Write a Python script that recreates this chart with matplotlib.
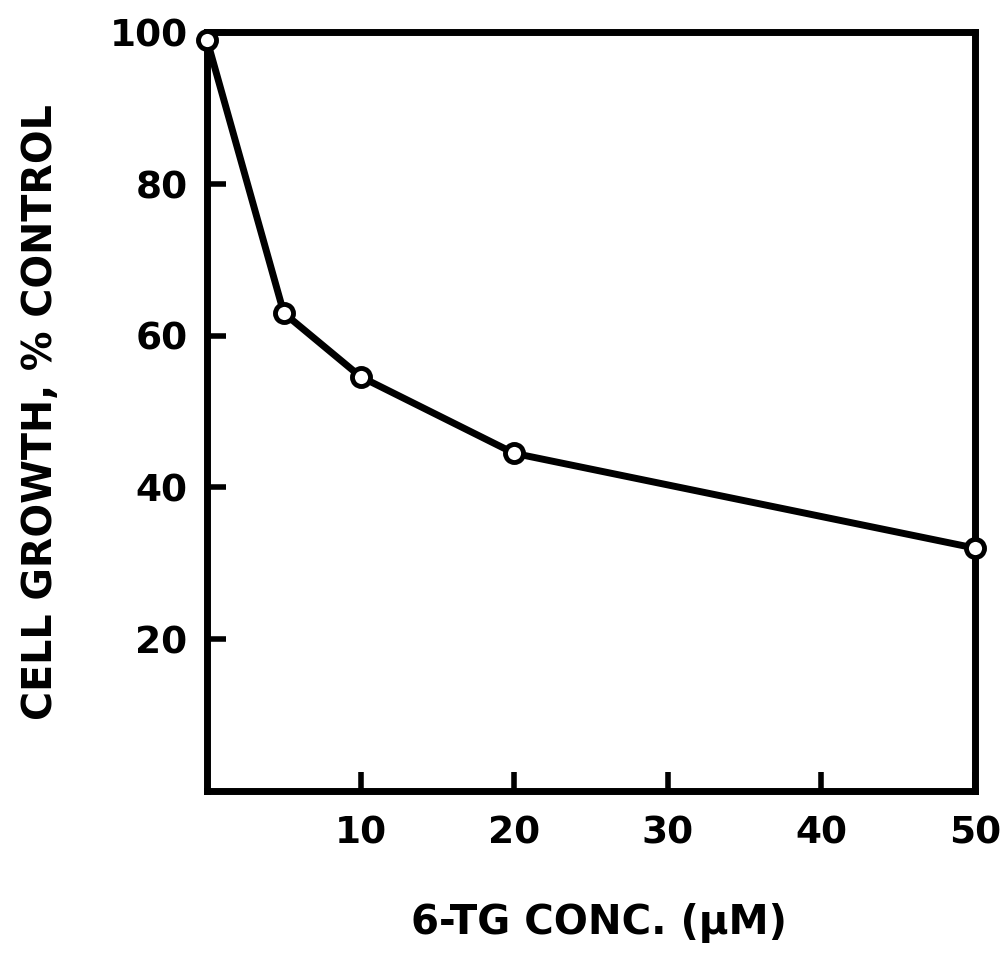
import matplotlib.pyplot as plt

# data
conc = [0, 5, 10, 20, 50]
growth = [99, 63, 54.6, 44.5, 32]

xticks = [10, 20, 30, 40, 50]
yticks = [20, 40, 60, 80, 100]

plt.rcParams['font.family'] = ['DejaVu Sans']
plt.rcParams['font.weight'] = 'bold'

fig = plt.figure(figsize=(10.05, 9.55), dpi=100)
ax = fig.add_axes([0.206, 0.172, 0.764, 0.794])

ax.plot(conc, growth, color='black', lw=5, marker='o', ms=13,
        mfc='white', mec='black', mew=3.5, clip_on=False, zorder=3)

ax.set_xlim(0, 50)
ax.set_ylim(0, 100)
ax.set_xticks(xticks)
ax.set_yticks(yticks)
ax.set_xticklabels([str(t) for t in xticks], fontsize=27, fontweight='bold')
ax.set_yticklabels([str(t) for t in yticks], fontsize=27, fontweight='bold')
ax.tick_params(direction='in', length=14, width=4, pad=14)
ax.tick_params(axis='x', pad=18)

for s in ax.spines.values():
    s.set_linewidth(5)

ax.set_xlabel('6-TG CONC. (μM)', fontsize=29, fontweight='bold')
ax.set_ylabel('CELL GROWTH, % CONTROL', fontsize=28.5, fontweight='bold')
ax.xaxis.set_label_coords(0.51, -0.148)
ax.yaxis.set_label_coords(-0.19, 0.5)

fig.savefig('out.png', dpi=100)
